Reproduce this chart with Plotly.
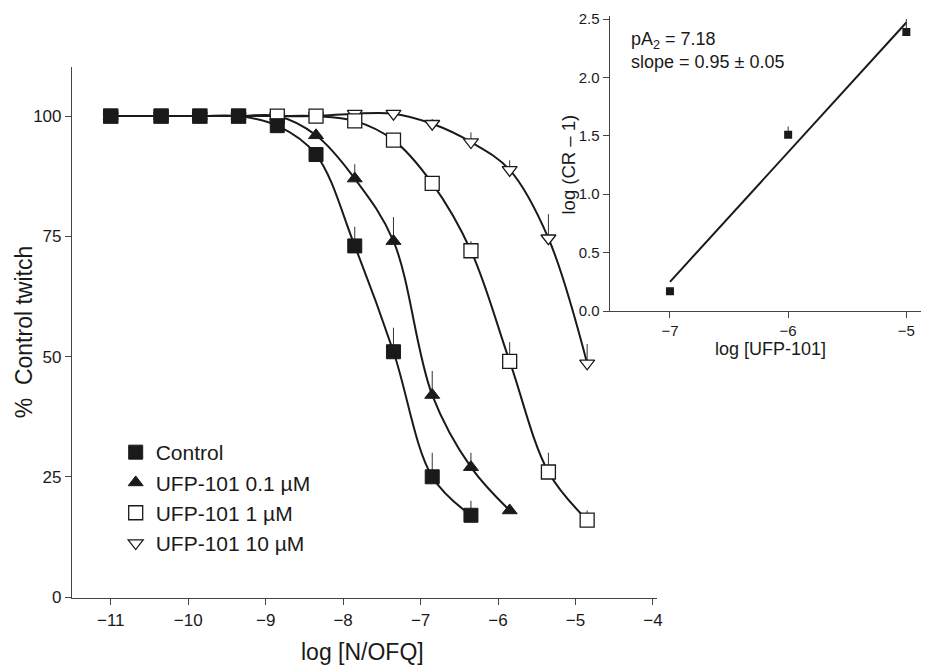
import plotly.graph_objects as go

# ---------------- data ----------------
log_nofq = [-11, -10.35, -9.85, -9.35, -8.85, -8.35, -7.85, -7.35, -6.85, -6.35, -5.85, -5.35, -4.85]

control_y = [100, 100, 100, 100, 98, 92, 73, 51, 25, 17]
control_err = [0, 0, 0, 0, 1, 1.5, 4, 5, 5, 3]

ufp01_y = [100, 100, 100, 100, 100, 96, 87, 74, 42, 27, 18]
ufp01_err = [0, 0, 0, 0, 0, 1, 3, 5, 5, 3, 0]

ufp1_y = [100, 100, 100, 100, 100, 100, 99, 95, 86, 72, 49, 26, 16]
ufp1_err = [0, 0, 0, 0, 0, 0, 0.5, 1, 1.5, 2, 4, 4, 2]

ufp10_y = [100, 100, 100, 100, 100, 100, 100.5, 100.5, 98.4, 94.6, 88.8, 74.6, 48.6]
ufp10_err = [0, 0, 0, 0, 0, 0, 0, 0, 1, 2, 2, 5, 4]

series_names = ["Control", "UFP-101 0.1 µM", "UFP-101 1 µM", "UFP-101 10 µM"]

main_yticks = [0, 25, 50, 75, 100]
main_xticks = [-11, -10, -9, -8, -7, -6, -5, -4]

inset_x = [-7, -6, -5]
inset_y = [0.17, 1.51, 2.39]
inset_err = [0.03, 0.07, 0.11]
fit_x = [-7, -5]
fit_y = [0.25, 2.47]
inset_yticks = [0, 0.5, 1.0, 1.5, 2.0, 2.5]
inset_xticks = [-7, -6, -5]

# ---------------- figure ----------------
FONT = "Liberation Sans, Arial, Helvetica, sans-serif"
INK = "#1a1a1a"
AX = "#444444"

W, H = 927, 667
ML, MR, MT, MB = 72, 0, 16, 69
PW, PH = W - ML - MR, H - MT - MB


def px_x(p):
    return (p - ML) / PW


def px_y(p):
    return (H - MB - p) / PH


fig = go.Figure()

styles = [
    dict(symbol="square", size=14, color=INK, line=dict(color=INK, width=1)),
    dict(symbol="triangle-up", size=13, color=INK, line=dict(color=INK, width=1)),
    dict(symbol="square", size=14, color="white", line=dict(color=INK, width=1.3)),
    dict(symbol="triangle-down", size=13, color="white", line=dict(color=INK, width=1.3)),
]
ys = [control_y, ufp01_y, ufp1_y, ufp10_y]
errs = [control_err, ufp01_err, ufp1_err, ufp10_err]

# fitted curves (drawn beneath markers)
for y in ys:
    fig.add_trace(go.Scatter(
        x=log_nofq[:len(y)], y=y, mode="lines",
        line=dict(color=INK, width=2, shape="spline", smoothing=1.0),
        showlegend=False, hoverinfo="skip", xaxis="x", yaxis="y"))

# markers: draw order 0.1, 10, 1, Control (Control on top)
order = [1, 3, 2, 0]
for i in order:
    y = ys[i]
    fig.add_trace(go.Scatter(
        x=log_nofq[:len(y)], y=y, mode="markers", name=series_names[i],
        marker=styles[i],
        error_y=dict(type="data", symmetric=False, array=errs[i],
                     arrayminus=[0] * len(y), width=0, thickness=1, color="#333333"),
        legendgroup=series_names[i], legendrank=i + 1,
        xaxis="x", yaxis="y"))

# inset
fig.add_trace(go.Scatter(
    x=fit_x, y=fit_y, mode="lines", line=dict(color=INK, width=2),
    showlegend=False, hoverinfo="skip", xaxis="x2", yaxis="y2"))
fig.add_trace(go.Scatter(
    x=inset_x, y=inset_y, mode="markers",
    marker=dict(symbol="square", size=8, color=INK),
    error_y=dict(type="data", symmetric=False, array=inset_err,
                 arrayminus=[0] * len(inset_x), width=0, thickness=1, color="#333333"),
    showlegend=False, xaxis="x2", yaxis="y2"))

axis_common = dict(showline=True, linecolor=AX, linewidth=1.2, ticks="outside",
                   tickcolor=AX, tickwidth=1.2, ticklen=6, showgrid=False,
                   zeroline=False, mirror=False, color=INK)

fig.update_layout(
    width=W, height=H,
    margin=dict(l=ML, r=MR, t=MT, b=MB),
    paper_bgcolor="white", plot_bgcolor="rgba(0,0,0,0)",
    font=dict(family=FONT, color=INK),
    xaxis=dict(domain=[0, px_x(661)], range=[-11.5, -3.95], tickvals=main_xticks,
               tickfont=dict(size=17), anchor="y", **axis_common),
    yaxis=dict(domain=[0, px_y(67)], range=[-0.2, 110.2], tickvals=main_yticks,
               tickfont=dict(size=17), anchor="x", **axis_common),
    xaxis2=dict(domain=[px_x(613.5), 1.0], range=[-7.51, -4.876], tickvals=inset_xticks,
                tickfont=dict(size=15), anchor="y2", **axis_common),
    yaxis2=dict(domain=[px_y(311), 1.0], range=[0, 2.526], tickvals=inset_yticks,
                tickformat=".1f", tickfont=dict(size=15), anchor="x2", **axis_common),
    legend=dict(x=px_x(116), y=px_y(432), xanchor="left", yanchor="top",
                font=dict(size=21, color=INK), bgcolor="rgba(0,0,0,0)",
                tracegroupgap=0, itemsizing="trace"),
    showlegend=True,
)

annotations = [
    dict(text="log [N/OFQ]", x=px_x(365), y=px_y(652), xref="paper", yref="paper",
         xanchor="center", yanchor="middle", showarrow=False, font=dict(size=23)),
    dict(text="%  Control twitch", x=px_x(24), y=px_y(332), xref="paper", yref="paper",
         xanchor="center", yanchor="middle", showarrow=False, textangle=-90,
         font=dict(size=23)),
    dict(text="log [UFP-101]", x=px_x(775), y=px_y(349), xref="paper", yref="paper",
         xanchor="center", yanchor="middle", showarrow=False, font=dict(size=18)),
    dict(text="log (CR – 1)", x=px_x(572), y=px_y(164), xref="paper", yref="paper",
         xanchor="center", yanchor="middle", showarrow=False, textangle=-90,
         font=dict(size=18.5)),
    dict(text="pA<sub>2</sub> = 7.18<br>slope = 0.95 ± 0.05", x=px_x(633), y=px_y(27),
         xref="paper", yref="paper", xanchor="left", yanchor="top", align="left",
         showarrow=False, font=dict(size=18)),
]
fig.update_layout(annotations=annotations)

fig.write_html("out.html", config={"displayModeBar": False},
               post_script="document.body.style.margin='0';document.body.style.padding='0';")
